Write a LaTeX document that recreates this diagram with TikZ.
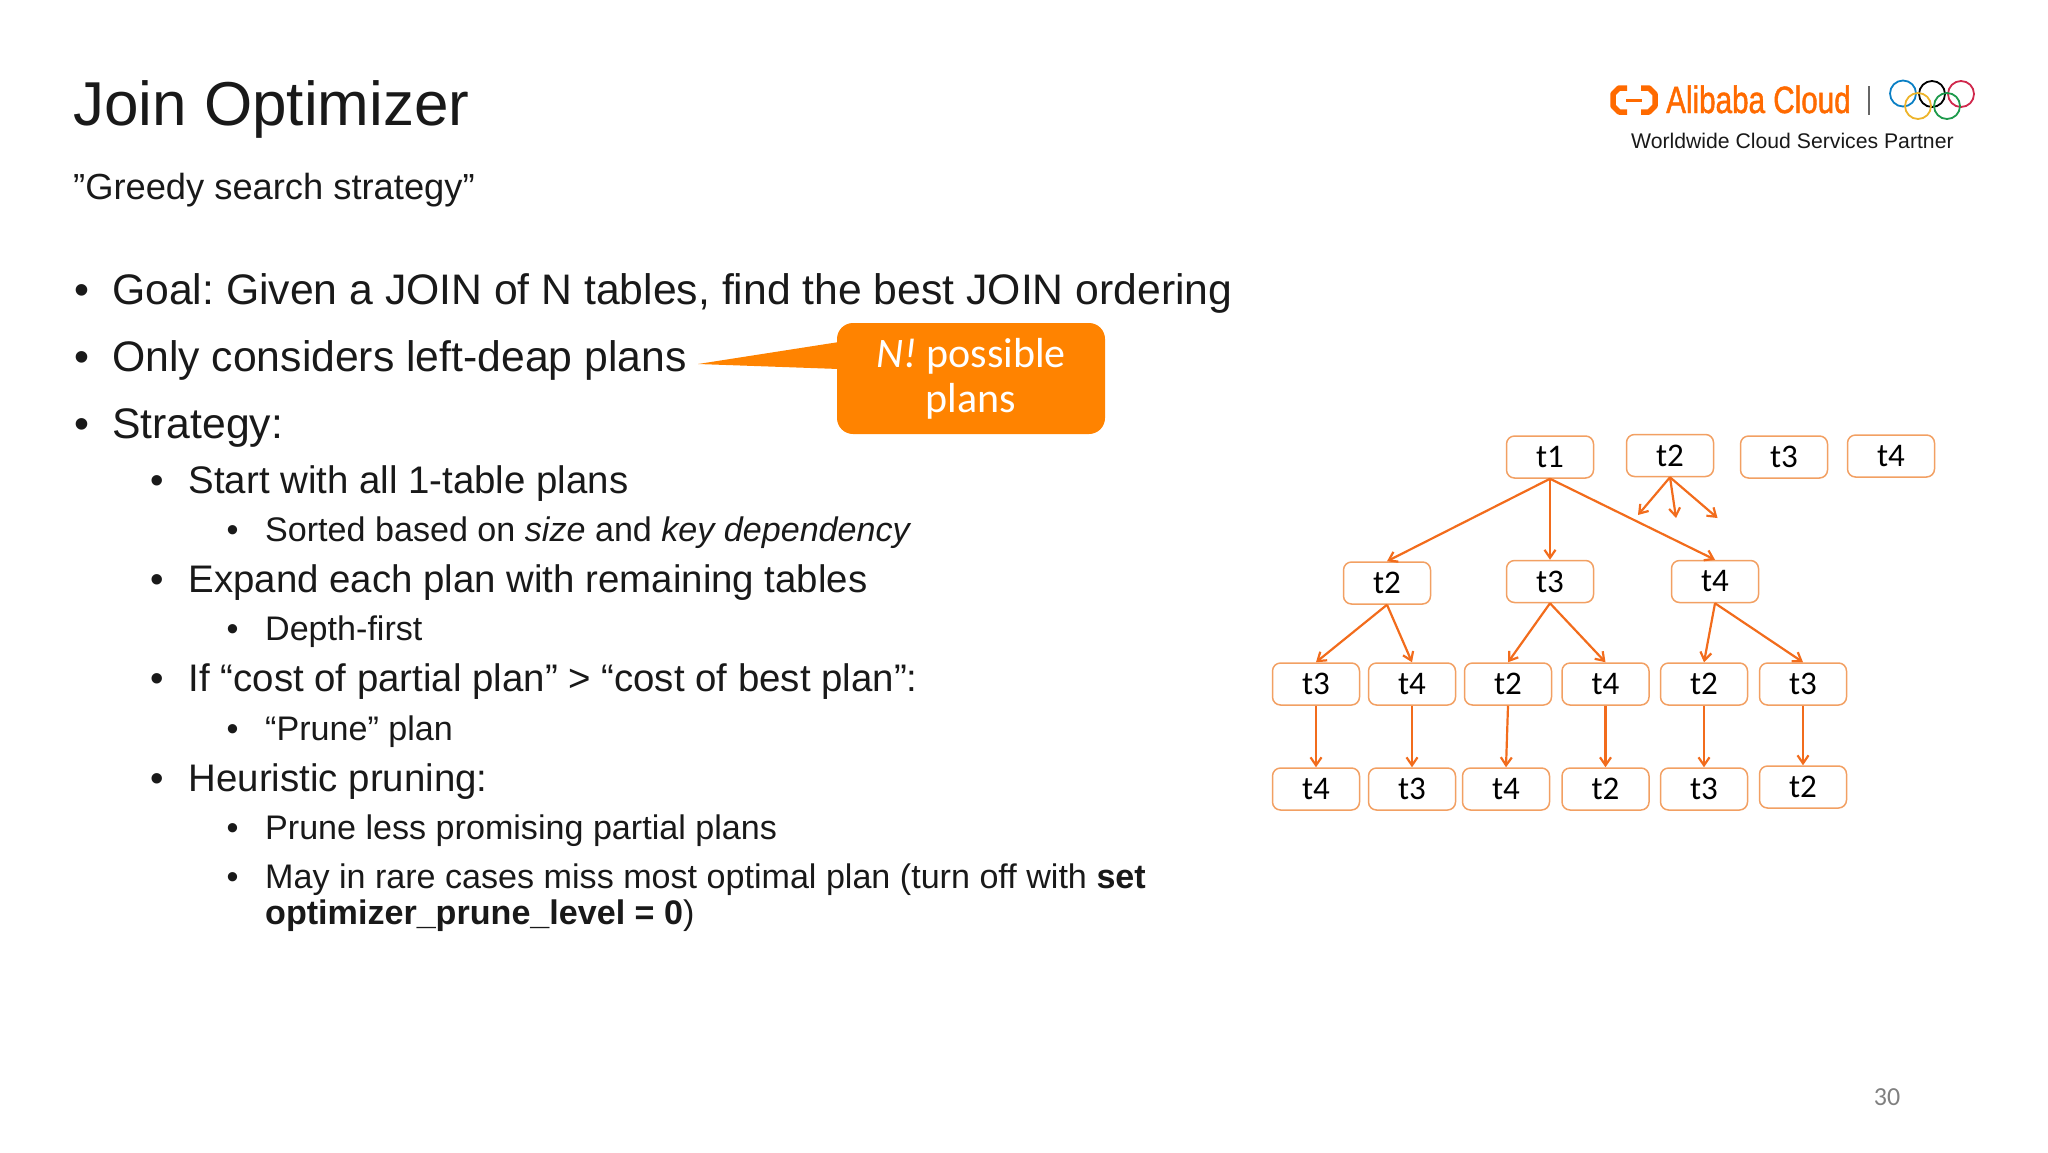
\documentclass[tikz,border=0pt]{standalone}
\usepackage{fontspec}
\setmainfont{Liberation Sans}
\newfontfamily\boxfont{Carlito}
\newfontfamily\logofont[FakeStretch=0.78,FakeBold=1.2]{Liberation Sans}
\usetikzlibrary{arrows.meta}
\definecolor{planline}{HTML}{F26C1C}
\definecolor{planedge}{HTML}{F2A063}
\definecolor{calloutfill}{HTML}{FF8300}
\definecolor{logoorange}{HTML}{FF6A00}
\frenchspacing
\newcommand{\sized}[1]{\fontsize{#1}{#1}\selectfont}
\newcommand{\bul}[1]{\makebox[#1][l]{•}}
\tikzset{
 txt/.style={anchor=base west,inner sep=0pt,text=black!90},
 lone/.style={txt,font=\sized{42.7}},
 ltwo/.style={txt,font=\sized{38.4}},
 lthree/.style={txt,font=\sized{34.1}},
 plan/.style={draw=planedge,line width=1.5pt,rounded corners=8pt,fill=white,
  minimum width=87pt,minimum height=42pt,inner sep=0pt,font=\boxfont\sized{33}},
 flow/.style={draw=planline,line width=2.2pt,-{Straight Barb[length=8pt,width=11pt]}},
 ring/.style={line width=1.8pt},
}
\begin{document}
\begin{tikzpicture}
[x=1pt,y=-1pt]
 \useasboundingbox (0,0) rectangle (2048,1152);
 % heading
 \node[txt,font=\sized{62}] (title) at (73,125) {Join Optimizer};
 \node[txt,font=\sized{36.3}] (subtitle) at (73,199) {”Greedy search strategy”};
 % bullets
 \node[lone] (goal) at (74,304.5) {\bul{38pt}Goal: Given a JOIN of N tables, find the best JOIN ordering};
 \node[lone] (only) at (74,371.5) {\bul{38pt}Only considers left-deap plans};
 \node[lone] (strategy) at (74,438.5) {\bul{38pt}Strategy:};
 \node[ltwo] (start) at (150,493) {\bul{38.5pt}Start with all 1-table plans};
 \node[lthree] (sorted) at (226.5,541) {\bul{38.5pt}Sorted based on \textit{size} and \textit{key dependency}};
 \node[ltwo] (expand) at (150,592.5) {\bul{38.5pt}Expand each plan with remaining tables};
 \node[lthree] (depth) at (226.5,640) {\bul{38.5pt}Depth-first};
 \node[ltwo] (partial) at (150,691.5) {\bul{38.5pt}If “cost of partial plan” > “cost of best plan”:};
 \node[lthree] (prune) at (226.5,740) {\bul{38.5pt}“Prune” plan};
 \node[ltwo] (heuristic) at (150,791.5) {\bul{38.5pt}Heuristic pruning:};
 \node[lthree] (less) at (226.5,839) {\bul{38.5pt}Prune less promising partial plans};
 \node[lthree] (rare) at (226.5,888) {\bul{38.5pt}May in rare cases miss most optimal plan (turn off with \textbf{set}};
 \node[lthree] (level) at (265,924.5) {\textbf{optimizer\_prune\_level = 0})};
 % callout
 \node[fill=calloutfill,rounded corners=16pt,minimum width=268pt,minimum height=111pt,inner sep=0pt,
  text=white,align=center,font=\boxfont\sized{42}] (callout) at (971,378.5)
  {\raisebox{-1.5pt}{\textit{N!} possible}\\[3pt]\raisebox{-1.5pt}{plans}};
 \coordinate (tip) at (698,364);
 \fill[calloutfill] (tip) -- (839,342) -- (839,369) -- cycle;
 % first level
 \node[plan] (t1) at (1550,457) {t1};
 \node[plan] (t2) at (1670,455.5) {t2};
 \node[plan] (t3) at (1784,457) {t3};
 \node[plan] (t4) at (1891,456) {t4};
 % second level
 \node[plan] (t12) at (1387,583) {t2};
 \node[plan] (t13) at (1550,581.5) {t3};
 \node[plan] (t14) at (1715,581.5) {t4};
 % third level
 \node[plan] (t123) at (1316,684) {t3};
 \node[plan] (t124) at (1412,684) {t4};
 \node[plan] (t132) at (1508,684) {t2};
 \node[plan] (t134) at (1605.5,684) {t4};
 \node[plan] (t142) at (1704,684) {t2};
 \node[plan] (t143) at (1803,684) {t3};
 % fourth level
 \node[plan] (t1234) at (1316,789) {t4};
 \node[plan] (t1243) at (1412,789) {t3};
 \node[plan] (t1324) at (1506,789) {t4};
 \node[plan] (t1342) at (1605.5,789) {t2};
 \node[plan] (t1423) at (1704,789) {t3};
 \node[plan] (t1432) at (1803,787) {t2};
 \coordinate (s1) at (1638,515);
 \coordinate (s2) at (1676,518);
 \coordinate (s3) at (1717.5,518);

 \draw[flow] (t1.south) -- (t12.north);
 \draw[flow] (t1.south) -- (t13.north);
 \draw[flow] (t1.south) -- (t14.north);
 \draw[flow] (t2.south) -- (s1);
 \draw[flow] (t2.south) -- (s2);
 \draw[flow] (t2.south) -- (s3);
 \draw[flow] (t12.south) -- (t123.north);
 \draw[flow] (t12.south) -- (t124.north);
 \draw[flow] (t13.south) -- (t132.north);
 \draw[flow] (t13.south) -- (t134.north);
 \draw[flow] (t14.south) -- (t142.north);
 \draw[flow] (t14.south) -- (t143.north);
 \draw[flow] (t123.south) -- (t1234.north);
 \draw[flow] (t124.south) -- (t1243.north);
 \draw[flow] (t132.south) -- (t1324.north);
 \draw[flow] (t134.south) -- (t1342.north);
 \draw[flow] (t142.south) -- (t1423.north);
 \draw[flow] (t143.south) -- (t1432.north);
 % logo
 \draw[logoorange,line width=5.5pt,line join=round] (1627,88) -- (1619,88) -- (1613,94) -- (1613,106) -- (1619,112) -- (1627,112);
 \draw[logoorange,line width=5.5pt,line join=round] (1641,88) -- (1649,88) -- (1655,94) -- (1655,106) -- (1649,112) -- (1641,112);
 \draw[logoorange,line width=3pt] (1626,100) -- (1642,100);
 \node[txt,text=logoorange,font=\logofont\sized{38}] (brand) at (1666,113) {Alibaba Cloud};
 \draw[black!60,line width=1.5pt] (1869,86) -- (1869,115);
 \draw[ring,draw={rgb,255:red,10;green,127;blue,196}] (1903,93.5) circle (13);
 \draw[ring,draw=black] (1932,94) circle (13);
 \draw[ring,draw={rgb,255:red,208;green,40;blue,76}] (1961,94) circle (13);
 \draw[ring,draw={rgb,255:red,237;green,180;blue,43}] (1918,106) circle (13);
 \draw[ring,draw={rgb,255:red,30;green,154;blue,76}] (1947,106) circle (13);
 \node[txt,font=\sized{21.2}] (partner) at (1631,148) {Worldwide Cloud Services Partner};
 % page number
 \node[text=black!50,inner sep=0pt,font=\boxfont\sized{26}] (page) at (1887,1097.5) {30};
\end{tikzpicture}
\end{document}
